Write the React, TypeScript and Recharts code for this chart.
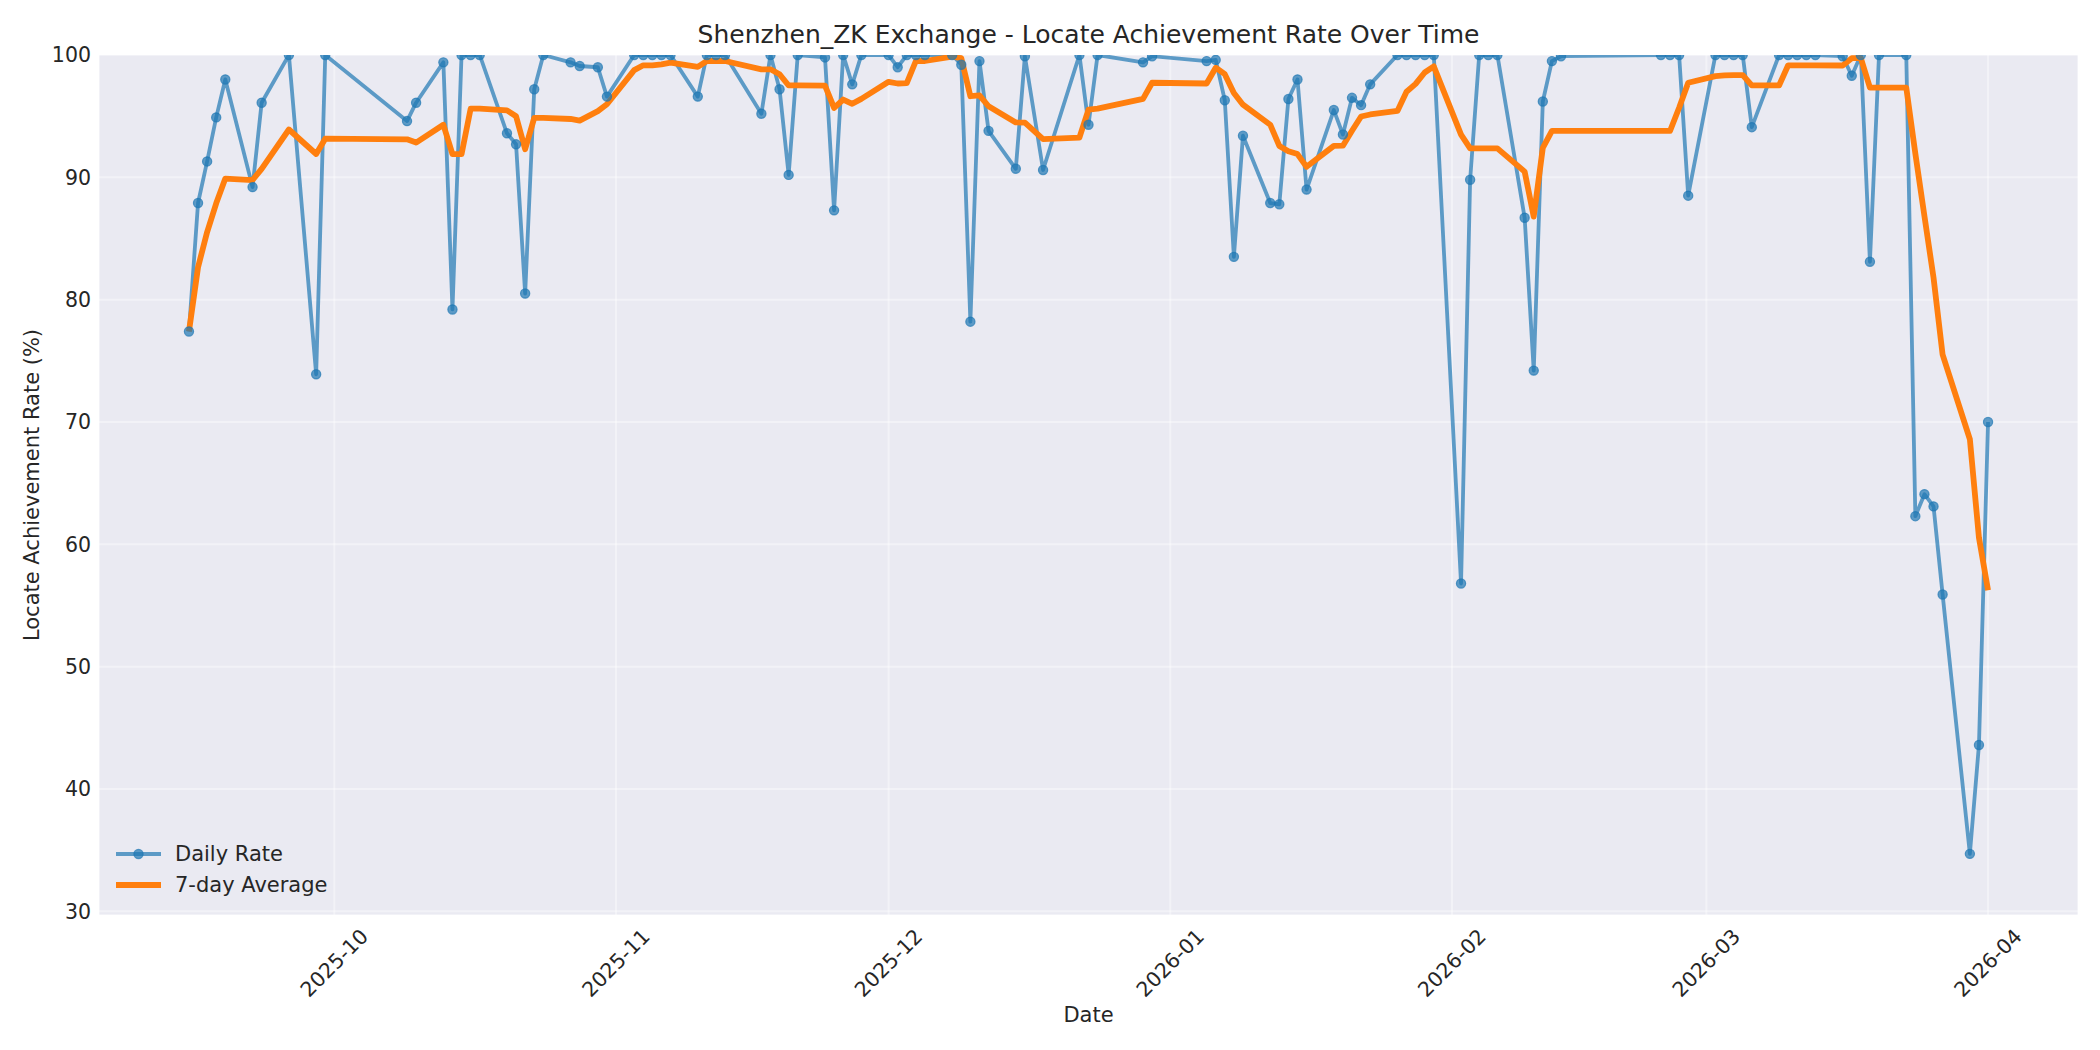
import React from 'react';
import { LineChart, Line, XAxis, YAxis, CartesianGrid } from 'recharts';

const FONT = '"DejaVu Sans", "Liberation Sans", sans-serif';
const TEXT = '#262626';
const BLUE = '#1f77b4';
const ORANGE = '#ff7f0e';

const titleText = 'Shenzhen_ZK Exchange - Locate Achievement Rate Over Time';
const xLabel = 'Date';
const yLabel = 'Locate Achievement Rate (%)';
const dailyName = 'Daily Rate';
const avgName = '7-day Average';

const dates = [
  '2025-09-15', '2025-09-16', '2025-09-17', '2025-09-18', '2025-09-19', '2025-09-22', '2025-09-23', '2025-09-26', '2025-09-29', '2025-09-30',
  '2025-10-09', '2025-10-10', '2025-10-13', '2025-10-14', '2025-10-15', '2025-10-16', '2025-10-17', '2025-10-20', '2025-10-21', '2025-10-22',
  '2025-10-23', '2025-10-24', '2025-10-27', '2025-10-28', '2025-10-30', '2025-10-31', '2025-11-03', '2025-11-04', '2025-11-05', '2025-11-06',
  '2025-11-07', '2025-11-10', '2025-11-11', '2025-11-12', '2025-11-13', '2025-11-17', '2025-11-18', '2025-11-19', '2025-11-20', '2025-11-21',
  '2025-11-24', '2025-11-25', '2025-11-26', '2025-11-27', '2025-11-28', '2025-12-01', '2025-12-02', '2025-12-03', '2025-12-04', '2025-12-05',
  '2025-12-08', '2025-12-09', '2025-12-10', '2025-12-11', '2025-12-12', '2025-12-15', '2025-12-16', '2025-12-18', '2025-12-22', '2025-12-23',
  '2025-12-24', '2025-12-29', '2025-12-30', '2026-01-05', '2026-01-06', '2026-01-07', '2026-01-08', '2026-01-09', '2026-01-12', '2026-01-13',
  '2026-01-14', '2026-01-15', '2026-01-16', '2026-01-19', '2026-01-20', '2026-01-21', '2026-01-22', '2026-01-23', '2026-01-26', '2026-01-27',
  '2026-01-28', '2026-01-29', '2026-01-30', '2026-02-02', '2026-02-03', '2026-02-04', '2026-02-05', '2026-02-06', '2026-02-09', '2026-02-10',
  '2026-02-11', '2026-02-12', '2026-02-13', '2026-02-24', '2026-02-25', '2026-02-26', '2026-02-27', '2026-03-02', '2026-03-03', '2026-03-04',
  '2026-03-05', '2026-03-06', '2026-03-09', '2026-03-10', '2026-03-11', '2026-03-12', '2026-03-13', '2026-03-16', '2026-03-17', '2026-03-18',
  '2026-03-19', '2026-03-20', '2026-03-23', '2026-03-24', '2026-03-25', '2026-03-26', '2026-03-27', '2026-03-30', '2026-03-31', '2026-04-01',
];

const dailyRate = [
  77.4, 87.9, 91.3, 94.9, 98.0, 89.2, 96.1, 100, 73.9, 100,
  94.6, 96.1, 99.4, 79.2, 100, 100, 100, 93.6, 92.7, 80.5,
  97.2, 100, 99.4, 99.1, 99.0, 96.6, 100, 100, 100, 100,
  100, 96.6, 100, 100, 100, 95.2, 100, 97.2, 90.2, 100,
  99.8, 87.3, 100, 97.6, 100, 100, 99.0, 100, 100, 100,
  100, 99.2, 78.2, 99.5, 93.8, 90.7, 99.9, 90.6, 100, 94.3,
  100, 99.4, 99.9, 99.5, 99.6, 96.3, 83.5, 93.4, 87.9, 87.8,
  96.4, 98.0, 89.0, 95.5, 93.5, 96.5, 95.9, 97.6, 100, 100,
  100, 100, 100, 56.8, 89.8, 100, 100, 100, 86.7, 74.2,
  96.2, 99.5, 99.9, 100, 100, 100, 88.5, 100, 100, 100,
  100, 94.1, 100, 100, 100, 100, 100, 99.9, 98.3, 100,
  83.1, 100, 100, 62.3, 64.1, 63.1, 55.9, 34.7, 43.6, 70.0,
];

const avgRate = [
  77.4, 82.65, 85.53, 87.88, 89.9, 89.78, 90.69, 93.91, 91.91, 93.16,
  93.11, 92.84, 94.3, 91.89, 91.89, 95.61, 95.61, 95.47, 94.99, 92.29,
  94.86, 94.86, 94.77, 94.64, 95.41, 95.97, 98.76, 99.16, 99.16, 99.24,
  99.37, 99.03, 99.51, 99.51, 99.51, 98.83, 98.83, 98.43, 97.51, 97.51,
  97.49, 95.67, 96.36, 96.01, 96.41, 97.81, 97.67, 97.7, 99.51, 99.51,
  99.86, 99.74, 96.63, 96.7, 95.81, 94.49, 94.47, 93.13, 93.24, 95.54,
  95.61, 96.41, 97.73, 97.67, 98.96, 98.43, 96.89, 95.94, 94.3, 92.57,
  92.13, 91.9, 90.86, 92.57, 92.59, 93.81, 94.97, 95.14, 95.43, 97.0,
  97.64, 98.57, 99.07, 93.49, 92.37, 92.37, 92.37, 92.37, 90.47, 86.79,
  92.41, 93.8, 93.79, 93.79, 93.79, 95.69, 97.73, 98.27, 98.34, 98.36,
  98.36, 97.51, 97.51, 99.16, 99.16, 99.16, 99.16, 99.14, 99.74, 99.74,
  97.33, 97.33, 97.33, 91.94, 86.83, 81.8, 75.5, 68.59, 60.53, 56.24,
];

const xTickLabels = ['2025-10', '2025-11', '2025-12', '2026-01', '2026-02', '2026-03', '2026-04'];
const yTicks = [30, 40, 50, 60, 70, 80, 90, 100];
const yDomain: [number, number] = [29.7, 100];

const DAY = 86400000;
const toDay = (s: string) => {
  const [y, m, d] = s.split('-').map(Number);
  return Date.UTC(y, m - 1, d || 1) / DAY;
};

const table = dates.map((d, i) => ({ t: toDay(d), daily: dailyRate[i], avg: avgRate[i] }));
const xTicks = xTickLabels.map(toDay);
const tMin = Math.min(...table.map((r) => r.t));
const tMax = Math.max(...table.map((r) => r.t));
const span = tMax - tMin;
const xDomain: [number, number] = [tMin - 0.05 * span, tMax + 0.05 * span];

const XTick = (props: any) => {
  const { x, y, payload } = props;
  const idx = xTicks.indexOf(payload.value);
  const label = idx >= 0 ? xTickLabels[idx] : '';
  const cy = y + 46;
  return (
    <text
      x={x}
      y={cy}
      transform={`rotate(-45 ${x} ${cy})`}
      textAnchor="middle"
      dominantBaseline="central"
      fontSize={20.5}
      fontFamily={FONT}
      fill={TEXT}
    >
      {label}
    </text>
  );
};

const LegendBox = () => (
  <div
    style={{
      position: 'absolute', left: 116, top: 838, fontFamily: FONT, fontSize: 21, color: TEXT,
      lineHeight: '24px', whiteSpace: 'nowrap',
    }}
  >
    <div style={{ display: 'flex', alignItems: 'center', height: 31 }}>
      <svg width={59} height={20} style={{ display: 'block' }}>
        <line x1={0} y1={10} x2={45} y2={10} stroke={BLUE} strokeOpacity={0.7} strokeWidth={3.8} />
        <circle cx={22.5} cy={10} r={4.6} fill={BLUE} fillOpacity={0.7} stroke={BLUE} strokeOpacity={0.7} strokeWidth={1.2} />
      </svg>
      <span>{dailyName}</span>
    </div>
    <div style={{ display: 'flex', alignItems: 'center', height: 31 }}>
      <svg width={59} height={20} style={{ display: 'block' }}>
        <line x1={0} y1={10} x2={45} y2={10} stroke={ORANGE} strokeWidth={5.8} />
      </svg>
      <span>{avgName}</span>
    </div>
  </div>
);

export default function App() {
  return (
    <div style={{ position: 'absolute', left: 0, top: 0, width: 2100, height: 1050, background: '#ffffff', fontFamily: FONT }}>
      <div
        style={{
          position: 'absolute', left: 99, width: 1979, top: 20, height: 30, lineHeight: '30px',
          textAlign: 'center', fontSize: 25, color: TEXT, whiteSpace: 'nowrap',
        }}
      >
        {titleText}
      </div>
      <LineChart
        width={2100}
        height={1050}
        data={table}
        margin={{ top: 55, right: 22, bottom: 35, left: 0 }}
      >
        <CartesianGrid fill="#eaeaf2" stroke="#ffffff" strokeOpacity={0.4} strokeWidth={2} />
        <XAxis
          dataKey="t"
          type="number"
          domain={xDomain}
          ticks={xTicks}
          allowDataOverflow
          interval={0}
          height={100}
          axisLine={false}
          tickLine={false}
          tickSize={0}
          tick={<XTick />}
        />
        <YAxis
          type="number"
          domain={yDomain}
          ticks={yTicks}
          allowDataOverflow
          interval={0}
          width={99}
          axisLine={false}
          tickLine={false}
          tickSize={0}
          tickMargin={8}
          tick={{ fontSize: 20.5, fill: TEXT, fontFamily: FONT }}
        />
        <Line
          type="linear"
          dataKey="daily"
          name={dailyName}
          stroke={BLUE}
          strokeOpacity={0.7}
          strokeWidth={3.8}
          strokeLinejoin="round"
          dot={{ r: 4.6, fill: BLUE, fillOpacity: 0.7, stroke: BLUE, strokeOpacity: 0.7, strokeWidth: 1.2 }}
          activeDot={false}
          isAnimationActive={false}
        />
        <Line
          type="linear"
          dataKey="avg"
          name={avgName}
          stroke={ORANGE}
          strokeWidth={5.8}
          strokeLinejoin="round"
          dot={false}
          activeDot={false}
          isAnimationActive={false}
        />
      </LineChart>
      <LegendBox />
      <div
        style={{
          position: 'absolute', left: 99, width: 1979, top: 1003, height: 24, lineHeight: '24px',
          textAlign: 'center', fontSize: 21, color: TEXT,
        }}
      >
        {xLabel}
      </div>
      <div
        style={{
          position: 'absolute', left: 32 - 200, top: 485 - 12, width: 400, height: 24, lineHeight: '24px',
          textAlign: 'center', fontSize: 21, color: TEXT, transform: 'rotate(-90deg)', whiteSpace: 'nowrap',
        }}
      >
        {yLabel}
      </div>
    </div>
  );
}
